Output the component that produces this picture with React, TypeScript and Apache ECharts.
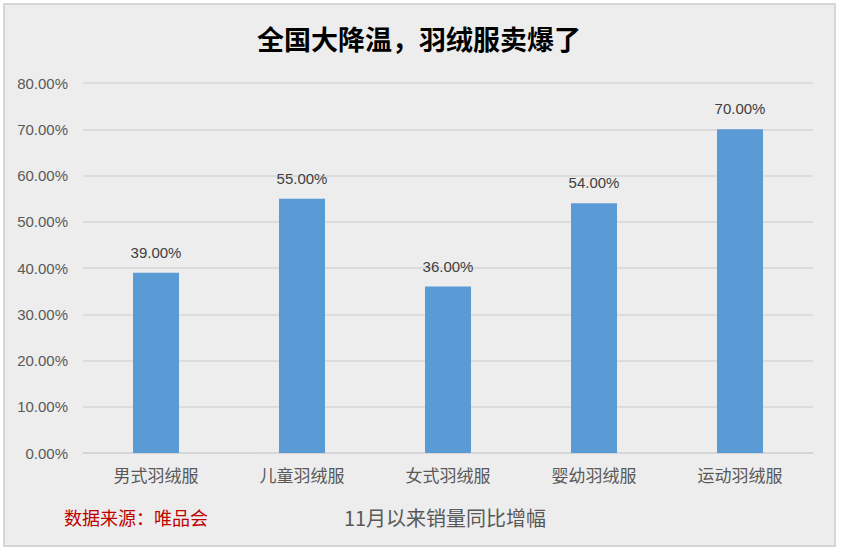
import React, { useEffect, useRef } from "react";
import * as echarts from "echarts";

const categories = ["男式羽绒服", "儿童羽绒服", "女式羽绒服", "婴幼羽绒服", "运动羽绒服"];
const growthValues = [39, 55, 36, 54, 70];
const yTicks = { min: 0, max: 80, interval: 10 };
const titleText = "全国大降温，羽绒服卖爆了";
const sourceText = "数据来源：唯品会";
const noteText = "11月以来销量同比增幅";

const numFont = "'Liberation Sans', Arial, 'Noto Sans CJK SC', sans-serif";
const cjkFont = "'Noto Sans CJK SC', 'Liberation Sans', sans-serif";

export default function App() {
  const ref = useRef<HTMLDivElement>(null);
  useEffect(() => {
    document.body.style.margin = "0";
    const chart = echarts.init(ref.current!, undefined, { renderer: "svg" });
    chart.setOption({
      animation: false,
      backgroundColor: "#ffffff",
      graphic: [
        {
          type: "rect",
          z: -10,
          silent: true,
          shape: { x: 4, y: 4, width: 831, height: 542 },
          style: { fill: "#ededed", stroke: "#d6d6d6", lineWidth: 2 },
        },
        {
          type: "text",
          x: 419,
          y: 38,
          style: {
            text: titleText,
            fill: "#000000",
            font: `bold 27px ${cjkFont}`,
            align: "center",
            verticalAlign: "middle",
          },
        },
        {
          type: "text",
          x: 64,
          y: 517,
          style: {
            text: sourceText,
            fill: "#c00000",
            font: `18px ${cjkFont}`,
            verticalAlign: "middle",
          },
        },
        {
          type: "text",
          x: 445,
          y: 517,
          style: {
            text: noteText,
            fill: "#595959",
            font: `20px ${cjkFont}`,
            align: "center",
            verticalAlign: "middle",
          },
        },
      ],
      grid: { left: 83, right: 28, top: 83, bottom: 100 },
      xAxis: {
        type: "category",
        data: categories,
        axisTick: { show: false },
        axisLine: { lineStyle: { color: "#d4d4d4", width: 1.5 } },
        axisLabel: { color: "#595959", fontSize: 17, fontFamily: cjkFont, margin: 13 },
      },
      yAxis: {
        type: "value",
        min: yTicks.min,
        max: yTicks.max,
        interval: yTicks.interval,
        axisLine: { show: false },
        axisTick: { show: false },
        splitLine: { lineStyle: { color: "#d4d4d4", width: 1.5 } },
        axisLabel: {
          color: "#595959",
          fontSize: 15,
          fontFamily: numFont,
          margin: 15,
          formatter: (v: number) => v.toFixed(2) + "%",
        },
      },
      series: [
        {
          type: "bar",
          data: growthValues,
          barWidth: 46,
          itemStyle: { color: "#5b9bd5" },
          label: {
            show: true,
            position: "top",
            distance: 13,
            color: "#404040",
            fontSize: 15,
            fontFamily: numFont,
            formatter: (p: any) => Number(p.value).toFixed(2) + "%",
          },
        },
      ],
    });
    return () => chart.dispose();
  }, []);
  return <div ref={ref} style={{ width: 841, height: 553 }} />;
}
